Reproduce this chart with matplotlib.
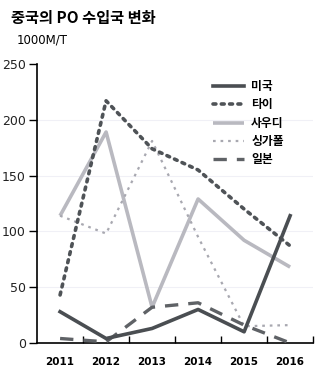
import matplotlib.pyplot as plt
import numpy as np

plt.rcParams['font.family'] = ['Noto Sans CJK KR', 'DejaVu Sans']

# 연도별 수입량 (1000M/T)
years = ['2011', '2012', '2013', '2014', '2015', '2016']
usa = [28, 4, 13, 30, 10, 114]
thai = [43, 217, 174, 155, 120, 87]
saudi = [114, 189, 32, 129, 92, 68]
singapore = [114, 98, 181, 95, 15, 16]
japan = [4, 1, 32, 36, 16, 0]

x = np.arange(len(years))

fig = plt.figure(figsize=(3.31, 3.74), dpi=100)
ax = fig.add_axes([0.112, 0.083, 0.834, 0.746])

# 희미한 가로 격자
for v in [50, 100, 150, 200]:
    ax.axhline(v, color='#f0f0f6', lw=0.8, zorder=0)

ax.plot(x, saudi, color='#b9b9c0', lw=2.6, solid_capstyle='butt', label='사우디', zorder=2)
ax.plot(x, singapore, color='#a8a8b0', lw=1.6, ls=(0, (1.2, 2.2)), label='싱가폴', zorder=2)
ax.plot(x, thai, color='#4f5357', lw=2.6, ls=(0, (0.8, 1.5)), dash_capstyle='round', label='타이', zorder=3)
ax.plot(x, japan, color='#5f6266', lw=2.4, ls=(0, (4, 3)), label='일본', zorder=3)
ax.plot(x, usa, color='#4a4e52', lw=2.6, label='미국', zorder=4)

ax.set_xlim(-0.5, 5.5)
ax.set_ylim(0, 250)
ax.set_yticks([0, 50, 100, 150, 200, 250])
ax.set_xticks(x)
ax.set_xticklabels(years, fontweight='bold', fontsize=7.5, family=['DejaVu Sans'])
ax.set_xticks(np.arange(0.5, 6, 1), minor=True)
ax.tick_params(axis='x', which='major', length=0, pad=10)
ax.tick_params(axis='x', which='minor', length=5, direction='in', width=1)
ax.tick_params(axis='y', length=6, width=1, labelsize=9, pad=2)
for lab in ax.get_yticklabels():
    lab.set_family(['DejaVu Sans'])
    lab.set_color('#222222')

ax.spines['top'].set_visible(False)
ax.spines['right'].set_visible(False)
ax.spines['left'].set_linewidth(1.2)
ax.spines['bottom'].set_linewidth(1.2)

handles, labels = ax.get_legend_handles_labels()
order = [labels.index(n) for n in ['미국', '타이', '사우디', '싱가폴', '일본']]
leg = ax.legend([handles[i] for i in order], [labels[i] for i in order],
                loc='upper left', bbox_to_anchor=(0.6, 0.98), frameon=False,
                handlelength=2.6, labelspacing=0.45, handletextpad=0.6,
                prop={'weight': 'bold', 'size': 8.5})

fig.text(0.033, 0.952, '중국의 PO 수입국 변화', fontsize=11, fontweight='bold', va='center')
fig.text(0.05, 0.893, '1000M/T', fontsize=8.5, va='center', family=['Liberation Sans Narrow', 'DejaVu Sans'])

plt.savefig('out.png', dpi=100)
